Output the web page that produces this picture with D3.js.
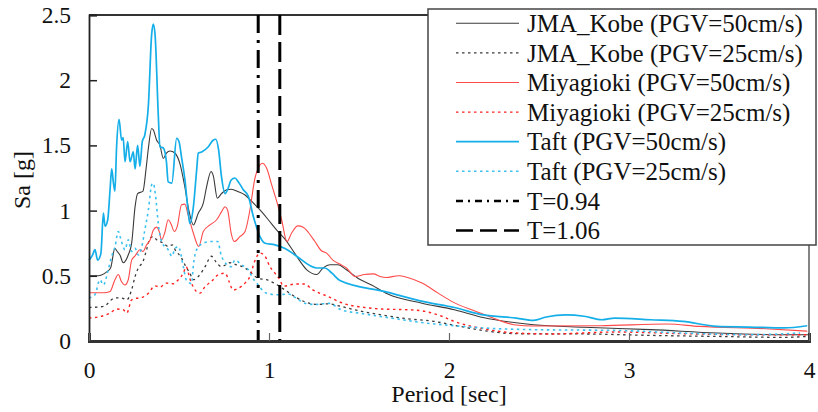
<!DOCTYPE html>
<html>
<head>
<meta charset="utf-8">
<script src="https://cdn.jsdelivr.net/npm/d3@7"></script>
<style>
  body { margin: 0; background: #fff; }
  text { font-family: "Liberation Serif", "Times New Roman", serif; fill: #111; }
</style>
</head>
<body>
<svg id="chart"></svg>
<script>
// period [sec], Sa [g]
var kobe50 = [[0,0.50],[0.05,0.50],[0.098,0.53],[0.12,0.56],[0.144,0.71],[0.155,0.69],[0.172,0.66],[0.19,0.60],[0.218,0.66],[0.237,0.75],[0.256,1.03],[0.27,1.13],[0.30,1.15],[0.317,1.32],[0.33,1.48],[0.348,1.63],[0.357,1.62],[0.376,1.54],[0.394,1.50],[0.413,1.40],[0.43,1.44],[0.45,1.457],[0.478,1.44],[0.505,1.36],[0.53,1.20],[0.555,1.00],[0.58,0.89],[0.607,0.98],[0.635,1.057],[0.653,1.18],[0.678,1.30],[0.69,1.27],[0.713,1.095],[0.736,1.13],[0.765,1.16],[0.79,1.164],[0.83,1.145],[0.867,1.12],[0.904,1.07],[0.95,1.005],[0.996,0.93],[1.043,0.85],[1.09,0.78],[1.144,0.67],[1.21,0.546],[1.265,0.51],[1.30,0.56],[1.34,0.585],[1.383,0.585],[1.43,0.546],[1.496,0.48],[1.57,0.43],[1.66,0.36],[1.85,0.29],[2.03,0.24],[2.19,0.18],[2.47,0.125],[2.75,0.105],[3.12,0.087],[3.49,0.061],[3.86,0.048],[4,0.048]];

var kobe25 = [[0,0.257],[0.08,0.265],[0.144,0.33],[0.18,0.33],[0.21,0.316],[0.237,0.393],[0.256,0.495],[0.274,0.56],[0.30,0.61],[0.32,0.70],[0.34,0.79],[0.357,0.80],[0.376,0.776],[0.394,0.763],[0.413,0.75],[0.44,0.725],[0.463,0.737],[0.478,0.70],[0.514,0.636],[0.533,0.584],[0.56,0.52],[0.58,0.47],[0.607,0.495],[0.645,0.57],[0.68,0.65],[0.709,0.60],[0.736,0.57],[0.783,0.60],[0.82,0.584],[0.867,0.56],[0.904,0.52],[0.94,0.48],[0.986,0.47],[1.033,0.44],[1.09,0.39],[1.144,0.34],[1.20,0.30],[1.27,0.28],[1.33,0.285],[1.40,0.265],[1.515,0.227],[1.625,0.20],[1.77,0.17],[1.92,0.15],[2.03,0.12],[2.375,0.056],[2.75,0.054],[3.12,0.043],[3.49,0.035],[3.86,0.028],[3.99,0.035]];

var miyagi50 = [[0,0.37],[0.08,0.37],[0.117,0.38],[0.144,0.47],[0.163,0.51],[0.18,0.456],[0.2,0.43],[0.218,0.47],[0.237,0.62],[0.256,0.653],[0.283,0.70],[0.30,0.686],[0.32,0.737],[0.34,0.776],[0.357,0.85],[0.376,0.873],[0.39,0.84],[0.403,0.776],[0.42,0.826],[0.44,0.93],[0.455,0.90],[0.474,0.84],[0.49,0.877],[0.514,1.044],[0.533,1.05],[0.55,0.97],[0.58,0.826],[0.61,0.725],[0.635,0.84],[0.672,0.89],[0.709,0.93],[0.736,0.99],[0.756,1.03],[0.77,1.005],[0.79,0.826],[0.807,0.763],[0.838,0.80],[0.867,0.84],[0.894,1.005],[0.92,1.235],[0.95,1.35],[0.963,1.363],[0.987,1.325],[1.015,1.197],[1.043,1.07],[1.07,0.93],[1.10,0.763],[1.125,0.826],[1.16,0.883],[1.19,0.873],[1.22,0.83],[1.255,0.763],[1.29,0.694],[1.32,0.674],[1.355,0.62],[1.40,0.585],[1.43,0.56],[1.478,0.495],[1.53,0.51],[1.58,0.515],[1.617,0.495],[1.65,0.487],[1.72,0.50],[1.77,0.487],[1.85,0.444],[1.94,0.367],[2.02,0.30],[2.15,0.227],[2.26,0.168],[2.36,0.125],[2.47,0.115],[2.84,0.117],[3.21,0.13],[3.39,0.112],[3.76,0.094],[3.99,0.076]];

var miyagi25 = [[0,0.176],[0.07,0.19],[0.117,0.214],[0.153,0.245],[0.19,0.24],[0.21,0.214],[0.237,0.316],[0.274,0.33],[0.30,0.337],[0.33,0.367],[0.367,0.423],[0.394,0.413],[0.43,0.444],[0.468,0.439],[0.496,0.47],[0.524,0.52],[0.54,0.57],[0.56,0.48],[0.59,0.39],[0.617,0.367],[0.645,0.418],[0.68,0.456],[0.72,0.51],[0.756,0.52],[0.78,0.45],[0.80,0.39],[0.83,0.405],[0.867,0.444],[0.894,0.495],[0.92,0.61],[0.95,0.674],[0.978,0.65],[1.005,0.57],[1.033,0.52],[1.06,0.47],[1.08,0.42],[1.144,0.437],[1.20,0.437],[1.235,0.40],[1.33,0.34],[1.42,0.285],[1.515,0.26],[1.625,0.245],[1.77,0.24],[1.867,0.227],[1.96,0.19],[2.03,0.15],[2.19,0.094],[2.375,0.061],[2.56,0.054],[2.93,0.069],[3.30,0.056],[3.67,0.048],[3.99,0.048]];

var taft50 = [[0,0.62],[0.011,0.64],[0.02,0.66],[0.033,0.70],[0.048,0.62],[0.066,0.67],[0.08,0.98],[0.089,0.88],[0.104,0.93],[0.117,1.16],[0.126,1.32],[0.135,1.22],[0.144,1.15],[0.153,1.48],[0.167,1.70],[0.181,1.54],[0.19,1.56],[0.2,1.375],[0.215,1.53],[0.228,1.375],[0.246,1.45],[0.256,1.32],[0.27,1.50],[0.283,1.34],[0.296,1.53],[0.31,1.58],[0.33,1.81],[0.348,2.35],[0.357,2.43],[0.367,2.35],[0.385,1.73],[0.394,1.49],[0.413,1.48],[0.43,1.375],[0.44,1.22],[0.46,1.21],[0.487,1.555],[0.50,1.53],[0.514,1.41],[0.533,1.235],[0.55,1.005],[0.56,0.90],[0.58,1.03],[0.598,1.31],[0.607,1.44],[0.626,1.45],[0.663,1.49],[0.69,1.54],[0.704,1.547],[0.72,1.465],[0.736,1.26],[0.756,1.13],[0.77,1.16],[0.79,1.235],[0.81,1.25],[0.83,1.22],[0.857,1.16],[0.885,1.11],[0.913,0.955],[0.93,0.877],[0.95,0.80],[0.978,0.75],[1.033,0.737],[1.089,0.71],[1.144,0.66],[1.265,0.56],[1.31,0.56],[1.35,0.52],[1.394,0.464],[1.64,0.38],[1.867,0.30],[2.03,0.257],[2.19,0.20],[2.375,0.176],[2.47,0.158],[2.54,0.184],[2.65,0.20],[2.75,0.19],[2.85,0.163],[2.92,0.176],[3.12,0.163],[3.30,0.15],[3.49,0.112],[3.67,0.107],[3.86,0.10],[3.99,0.117]];

var taft25 = [[0,0.33],[0.033,0.355],[0.061,0.47],[0.08,0.43],[0.107,0.546],[0.126,0.65],[0.144,0.72],[0.163,0.84],[0.18,0.763],[0.2,0.70],[0.218,0.776],[0.237,0.686],[0.256,0.71],[0.274,0.66],[0.293,0.72],[0.31,0.85],[0.33,1.005],[0.348,1.197],[0.357,1.21],[0.37,1.11],[0.385,0.90],[0.403,0.763],[0.42,0.725],[0.44,0.70],[0.46,0.65],[0.478,0.71],[0.496,0.725],[0.524,0.57],[0.54,0.47],[0.57,0.44],[0.58,0.584],[0.598,0.70],[0.635,0.75],[0.68,0.763],[0.715,0.763],[0.736,0.65],[0.79,0.57],[0.81,0.62],[0.848,0.584],[0.885,0.546],[0.904,0.495],[0.94,0.43],[0.97,0.38],[1.005,0.36],[1.05,0.355],[1.107,0.36],[1.15,0.33],[1.20,0.29],[1.255,0.28],[1.33,0.29],[1.40,0.24],[1.50,0.214],[1.61,0.19],[1.74,0.163],[1.87,0.138],[2.006,0.12],[2.19,0.10],[2.47,0.087],[2.93,0.081],[3.30,0.061],[3.67,0.048],[3.95,0.061]];

var markerPeriods = [0.94, 1.06];
var seriesNames = ["JMA_Kobe (PGV=50cm/s)", "JMA_Kobe (PGV=25cm/s)", "Miyagioki (PGV=50cm/s)",
    "Miyagioki (PGV=25cm/s)", "Taft (PGV=50cm/s)", "Taft (PGV=25cm/s)"];
var markerNames = ["T=0.94", "T=1.06"];
var xTicks = [0, 1, 2, 3, 4];
var yTicks = [0, 0.5, 1, 1.5, 2, 2.5];

var seriesData = [kobe50, kobe25, miyagi50, miyagi25, taft50, taft25];
var seriesStyle = [
    {color: "#3a3a3a", width: 1.1, dash: null},
    {color: "#3a3a3a", width: 1.3, dash: "2.5,3.5"},
    {color: "#ff4a4a", width: 1.1, dash: null},
    {color: "#ff2020", width: 1.4, dash: "2.5,3.5"},
    {color: "#14aee8", width: 1.7, dash: null},
    {color: "#3cc0f0", width: 1.6, dash: "2.5,3.5"}
];
var markerStyle = [
    {dash: "18,7,3,7", legendDash: "7,5,2,5"},
    {dash: "20,7", legendDash: "17,7"}
];

var svgWidth = 818, svgHeight = 412;
var plotLeft = 89, plotRight = 809, plotTop = 15, plotBottom = 341;

var svg = d3.select("#chart")
    .attr("width", svgWidth)
    .attr("height", svgHeight);

var xScale = d3.scaleLinear().domain([0, 4]).range([plotLeft, plotRight]);
var yScale = d3.scaleLinear().domain([0, 2.5]).range([plotBottom, plotTop]);

// frame (top + right)
svg.append("line")
    .attr("x1", plotLeft).attr("x2", plotRight).attr("y1", plotTop).attr("y2", plotTop)
    .style("stroke", "#333").style("stroke-width", "1.8px");
svg.append("line")
    .attr("x1", plotRight).attr("x2", plotRight).attr("y1", plotTop).attr("y2", plotBottom)
    .style("stroke", "#333").style("stroke-width", "1.2px");

var line = d3.line()
    .x(function(d){ return xScale(d[0]); })
    .y(function(d){ return yScale(d[1]); })
    .curve(d3.curveMonotoneX);

for (let i = 0; i < seriesData.length; i++) {
    svg.append("path")
        .datum(seriesData[i])
        .attr("fill", "none")
        .attr("stroke", seriesStyle[i].color)
        .attr("stroke-width", seriesStyle[i].width)
        .attr("stroke-dasharray", seriesStyle[i].dash)
        .attr("d", line);
}

// vertical period markers
for (let i = 0; i < markerPeriods.length; i++) {
    svg.append("line")
        .attr("x1", xScale(markerPeriods[i])).attr("x2", xScale(markerPeriods[i]))
        .attr("y1", yScale(2.5)).attr("y2", yScale(0))
        .attr("stroke", "#000")
        .attr("stroke-width", 3)
        .attr("stroke-dasharray", markerStyle[i].dash);
}

// axes
var yAxis = svg.append("g")
    .attr("class", "yAxis")
    .attr("transform", "translate(" + plotLeft + ",0)")
    .call(d3.axisLeft(yScale)
        .tickValues(yTicks)
        .tickSize(-8)
        .tickPadding(18)
        .tickFormat(function(d){ return String(d); }));
yAxis.select(".domain").attr("stroke", "#222").attr("stroke-width", 1.8);
yAxis.selectAll(".tick line").attr("stroke", "#222").attr("stroke-width", 1.5);
yAxis.selectAll(".tick text").attr("font-size", "23.5px")
    .style("font-family", "'Liberation Serif', serif").attr("fill", "#111");

var xAxis = svg.append("g")
    .attr("class", "xAxis")
    .attr("transform", "translate(0," + plotBottom + ")")
    .call(d3.axisBottom(xScale)
        .tickValues(xTicks)
        .tickSize(-8)
        .tickPadding(20)
        .tickFormat(function(d){ return String(d); }));
xAxis.select(".domain").attr("stroke", "#333").attr("stroke-width", 3);
xAxis.selectAll(".tick line").attr("stroke", "#666").attr("stroke-width", 1.2);
xAxis.selectAll(".tick text").attr("font-size", "23.5px")
    .style("font-family", "'Liberation Serif', serif").attr("fill", "#111");

svg.append("text")
    .attr("x", (plotLeft + plotRight) / 2)
    .attr("y", 402)
    .attr("text-anchor", "middle")
    .attr("font-size", "24px")
    .text("Period [sec]");

svg.append("text")
    .attr("transform", "translate(30,180) rotate(-90)")
    .attr("text-anchor", "middle")
    .attr("font-size", "24px")
    .text("Sa [g]");

// legend
var legend = svg.append("g").attr("class", "legend");
legend.append("rect")
    .attr("x", 428).attr("y", 9)
    .attr("width", 388).attr("height", 236)
    .style("fill", "#fff")
    .style("stroke", "#444")
    .style("stroke-width", "1.5px");

var rowY = function(i){ return 23.3 + i * 29.6; };
for (let i = 0; i < seriesNames.length; i++) {
    legend.append("line")
        .attr("x1", 456).attr("x2", 519)
        .attr("y1", rowY(i)).attr("y2", rowY(i))
        .attr("stroke", seriesStyle[i].color)
        .attr("stroke-width", seriesStyle[i].width)
        .attr("stroke-dasharray", seriesStyle[i].dash);
    legend.append("text")
        .attr("x", 527).attr("y", rowY(i)).attr("dy", "0.35em")
        .attr("font-size", "25px")
        .text(seriesNames[i]);
}
for (let j = 0; j < markerNames.length; j++) {
    var r = seriesNames.length + j;
    legend.append("line")
        .attr("x1", 456).attr("x2", 519)
        .attr("y1", rowY(r)).attr("y2", rowY(r))
        .attr("stroke", "#000")
        .attr("stroke-width", 2.5)
        .attr("stroke-dasharray", markerStyle[j].legendDash);
    legend.append("text")
        .attr("x", 527).attr("y", rowY(r)).attr("dy", "0.35em")
        .attr("font-size", "25px")
        .text(markerNames[j]);
}
</script>
</body>
</html>
